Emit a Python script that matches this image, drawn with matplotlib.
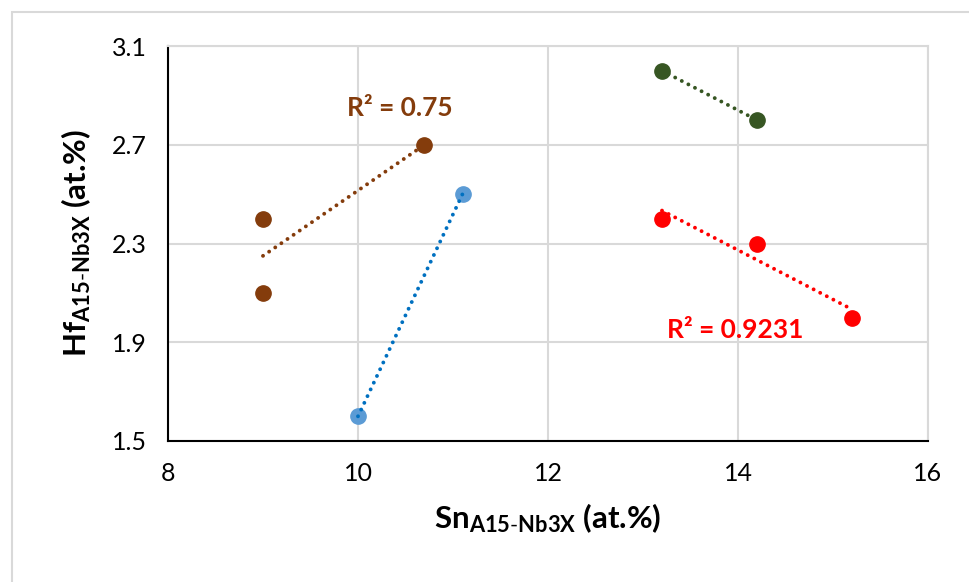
import numpy as np
import matplotlib
matplotlib.use("Agg")
import matplotlib.pyplot as plt
from matplotlib.patches import Rectangle

plt.rcParams['font.family'] = ['Lato', 'DejaVu Sans']
plt.rcParams['mathtext.fontset'] = 'custom'
plt.rcParams['mathtext.rm'] = 'Lato'
plt.rcParams['mathtext.bf'] = 'Lato:bold'
plt.rcParams['mathtext.it'] = 'Lato:italic'

# Data
brown_x = [9.0, 9.0, 10.7]
brown_y = [2.4, 2.1, 2.7]
blue_x = [10.0, 11.1]
blue_y = [1.6, 2.5]
green_x = [13.2, 14.2]
green_y = [3.0, 2.8]
red_x = [13.2, 14.2, 15.2]
red_y = [2.4, 2.3, 2.0]

x_ticks = [8, 10, 12, 14, 16]
y_ticks = [1.5, 1.9, 2.3, 2.7, 3.1]

series = [
    (brown_x, brown_y, '#843C0C', '#843C0C'),
    (blue_x, blue_y, '#5B9BD5', '#0070C0'),
    (green_x, green_y, '#375623', '#375623'),
    (red_x, red_y, '#FF0000', '#FF0000'),
]

fig = plt.figure(figsize=(9.69, 5.82), dpi=100)
# outer chart border (left and top visible)
fig.patches.append(Rectangle((12/969, -0.1), 1.2, 1 - 12/582 + 0.1, transform=fig.transFigure,
                             fill=False, edgecolor='#D9D9D9', linewidth=1.5, zorder=0))
ax = fig.add_axes([168/969, 1 - 441/582, (928-168)/969, (441-46)/582])

for xs, ys, mc, lc in series:
    ax.plot(xs, ys, 'o', color=mc, markersize=11, zorder=3, linestyle='none')
for xs, ys, mc, lc in series:
    xs_a = np.array(xs); ys_a = np.array(ys)
    m, b = np.polyfit(xs_a, ys_a, 1)
    xl = np.array([xs_a.min(), xs_a.max()])
    ax.plot(xl, m * xl + b, color=lc, linewidth=2.8, linestyle=(0, (0.01, 1.9)),
            dash_capstyle='round', zorder=4)

ax.text(10.44, 2.85, 'R² = 0.75', color='#843C0C', fontsize=19, fontweight='bold',
        ha='center', va='center', zorder=5)
ax.text(13.97, 1.95, 'R² = 0.9231', color='#FF0000', fontsize=19, fontweight='bold',
        ha='center', va='center', zorder=5)

ax.set_xlim(8, 16)
ax.set_ylim(1.5, 3.1)
ax.set_xticks(x_ticks)
ax.set_yticks(y_ticks)
ax.set_xticklabels([str(t) for t in x_ticks])
ax.set_yticklabels([f'{t:.1f}' for t in y_ticks])
ax.tick_params(length=0, labelsize=18, pad=15, colors='black')
ax.grid(True, color='#D9D9D9', linewidth=1.5, zorder=0)
ax.set_axisbelow(True)
for s in ['top', 'right']:
    ax.spines[s].set_color('#D9D9D9')
    ax.spines[s].set_linewidth(1.5)
for s in ['left', 'bottom']:
    ax.spines[s].set_color('black')
    ax.spines[s].set_linewidth(1.5)

ax.set_xlabel(r'$\mathbf{Sn_{A15\text{-}Nb3X}}$ (at.%)', fontsize=22.5, fontweight='bold', labelpad=12)
ax.set_ylabel(r'$\mathbf{Hf_{A15\text{-}Nb3X}}$ (at.%)', fontsize=22.5, fontweight='bold', labelpad=14)

fig.savefig('out.png', dpi=100)
